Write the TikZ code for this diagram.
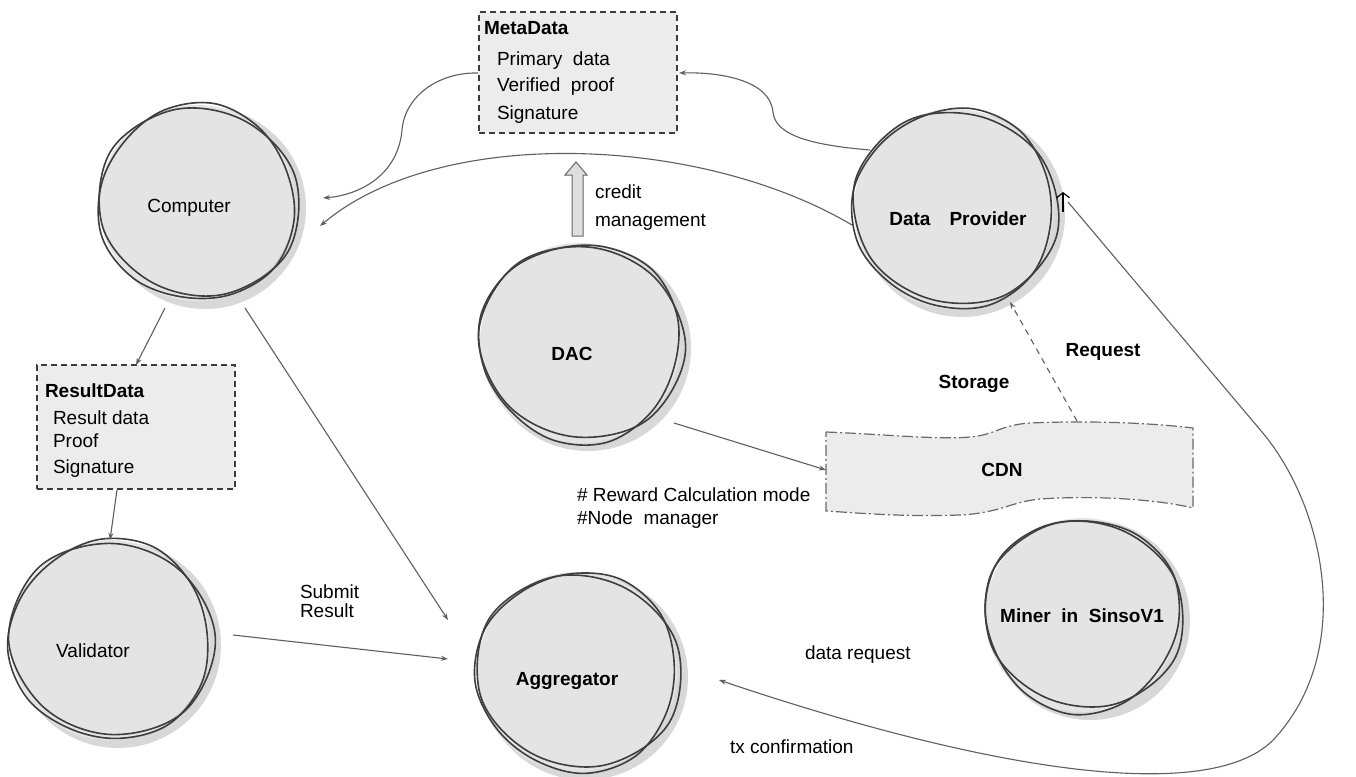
\documentclass[tikz,border=0pt]{standalone}
\usepackage{fontspec}
\setmainfont{Liberation Sans}
\usetikzlibrary{arrows.meta}
\definecolor{ballfill}{RGB}{228,228,228}
\definecolor{shd}{RGB}{216,216,216}
\definecolor{outl}{RGB}{62,62,62}
\definecolor{linec}{RGB}{95,95,95}
\definecolor{boxfill}{RGB}{236,236,236}
\definecolor{boxline}{RGB}{60,60,60}
\definecolor{cdnline}{RGB}{105,105,105}
\definecolor{hollowfill}{RGB}{222,222,222}
\newcommand\skball[5]{%
  \fill[shd] ({#2+8},{#3+5}) circle [radius=#4pt+3pt];
  \node[ball, minimum size=2*#4pt] (#1) at (#2,#3) {};
  \draw[skl] plot[domain=0:330, samples=12, smooth cycle, tension=0.6, variable=\t]
    ({#2+#4*(1+0.03*sin(3*\t+#5))*cos(\t+#5)}, {#3+#4*(1+0.03*sin(3*\t+#5))*sin(\t+#5)});
  \draw[skl] plot[domain=0:315, samples=8, smooth cycle, tension=0.6, variable=\t]
    ({#2+2+#4*(1+0.045*cos(2*\t+2*#5))*cos(\t+20+#5)}, {#3-1+#4*(0.99+0.045*cos(2*\t+2*#5))*sin(\t+20+#5)});
}
\begin{document}
\begin{tikzpicture}[x=1pt,y=-1pt,
  every node/.style={inner sep=0pt, outer sep=0pt},
  ball/.style={circle, fill=ballfill, draw=none},
  skl/.style={draw=outl, line width=1.6pt},
  lbl/.style={font=\fontsize{19}{22}\selectfont, text=black, text height=14pt, text depth=4pt},
  blbl/.style={font=\fontsize{19}{22}\selectfont\bfseries, text=black, text height=14pt, text depth=4pt},
  conn/.style={draw=linec, line width=1.1pt, -{Stealth[length=7pt,width=5pt]}},
  databox/.style={rectangle, draw=boxline, fill=boxfill, line width=1.6pt, dash pattern=on 6pt off 4pt},
  cdnshape/.style={draw=cdnline, fill=boxfill, line width=1.2pt, dash pattern=on 11pt off 3pt on 2pt off 3pt},
]
\useasboundingbox[fill=white] (0,0) rectangle (1356,776);

% ---------- balls ----------
\skball{comp}{197}{203}{98}{10}
\skball{dp}{954}{209}{100}{40}
\skball{dac}{580}{343}{100}{75}
\skball{val}{110}{640}{100}{25}
\skball{agg}{577}{672}{100}{55}
\skball{miner}{1082}{615}{97}{95}

\node[lbl]  (compT)  at (189,207) {Computer};
\node[blbl] (dpT)    at (958,220) {Data\quad Provider};
\node[blbl] (dacT)   at (572,355) {DAC};
\node[lbl]  (valT)   at (93,652)  {Validator};
\node[blbl] (aggT)   at (567,680) {Aggregator};
\node[blbl] (minerT) at (1082,617) {Miner\ \ in\ \ SinsoV1};

% ---------- data boxes ----------
\node[databox, anchor=north west, minimum width=198pt, minimum height=121pt] (meta) at (479,12) {};
\node[blbl, anchor=west] (metaT) at (484,30) {MetaData};
\node[lbl, anchor=west] (meta1) at (497,60) {Primary\ \ data};
\node[lbl, anchor=west] (meta2) at (497,87) {Verified\ \ proof};
\node[lbl, anchor=west] (meta3) at (497,114) {Signature};

\node[databox, anchor=north west, minimum width=198pt, minimum height=124pt] (res) at (37,365) {};
\node[blbl, anchor=west] (resT) at (45,392) {ResultData};
\node[lbl, anchor=west] (res1) at (53,419) {Result data};
\node[lbl, anchor=west] (res2) at (53,442) {Proof};
\node[lbl, anchor=west] (res3) at (53,468) {Signature};

% ---------- CDN ----------
\draw[cdnshape] (826,432) .. controls (880,434) and (940,440) .. (970,437)
  .. controls (995,435) and (1000,425) .. (1030,423)
  .. controls (1100,420) and (1160,424) .. (1193,428) -- (1193,508)
  .. controls (1160,500) and (1100,495) .. (1040,499)
  .. controls (1010,502) and (1000,513) .. (960,515)
  .. controls (900,517) and (860,513) .. (826,511) -- cycle;
\node[minimum width=367pt, minimum height=80pt] (cdnbox) at (1009.5,470) {};
\node[blbl] (cdnT) at (1002,471) {CDN};

% ---------- hollow arrow (credit management) ----------
\draw[draw=gray!80!black, fill=hollowfill, line width=1pt]
  (572,236) -- (572,175) -- (565,175) -- (576,162) -- (587,175) -- (583,175) -- (583,236) -- cycle;
\node[lbl, anchor=west] (cred1) at (595,193) {credit};
\node[lbl, anchor=west] (cred2) at (595,221) {management};

% ---------- connector end points ----------
\coordinate (compTip1) at (323,198);
\coordinate (compTip2) at (320,226);
\coordinate (metaR) at (679,73);
\coordinate (metaL) at (478,73);
\coordinate (dpW1) at (870,150);
\coordinate (dpW2) at (852,225);
\coordinate (compS1) at (165,308);
\coordinate (compS2) at (245,308);
\coordinate (resS) at (117,490);
\coordinate (aggTip1) at (448,620);
\coordinate (aggTip2) at (448,659);
\coordinate (valE) at (233,635);
\coordinate (dacE) at (674,423);
\coordinate (cdnTop) at (1077,421);
\coordinate (dpTipS) at (1010,302);
\coordinate (dpE) at (1068,202);
\coordinate (bendA) at (1262,432);
\coordinate (bendB) at (1275,738);
\coordinate (aggTip3) at (719,680);

% ---------- connectors ----------
\draw[conn] (metaL) .. controls (440,72) and (405,95) .. (402,130)
  .. controls (398,175) and (360,195) .. (compTip1);
\draw[conn] (dpW1) .. controls (810,145) and (775,135) .. (773,112)
  .. controls (770,80) and (720,72) .. (metaR);
\draw[conn] (dpW2) .. controls (700,135) and (440,125) .. (compTip2);
\draw[conn] (compS1) -- (res.north);
\draw[conn] (resS) -- (val.north);
\draw[conn] (compS2) -- (aggTip1);
\draw[conn] (valE) -- (aggTip2);
\draw[conn] (dacE) -- (cdnbox.west);
\draw[conn, dash pattern=on 6pt off 5pt] (cdnTop) -- (dpTipS);
\draw[conn] (dpE) -- (bendA) .. controls (1325,507) and (1355,650) .. (bendB)
  .. controls (1215,804) and (1000,775) .. (aggTip3);
\draw[black, line width=1.2pt, -{Straight Barb[length=5pt,width=13pt]}] ([xshift=-5pt,yshift=-10pt]dpE) -- ([xshift=-5pt,yshift=10pt]dpE);

% ---------- labels ----------
\node[lbl, anchor=west] (sub1) at (300,593) {Submit};
\node[lbl, anchor=west] (sub2) at (300,612) {Result};
\node[blbl] (stor) at (974,383) {Storage};
\node[blbl] (reqT) at (1103,351) {Request};
\node[lbl, anchor=west] (rew1) at (577,496) {\# Reward Calculation mode};
\node[lbl, anchor=west] (rew2) at (577,519) {\#Node\ \ manager};
\node[lbl, anchor=west] (dreq) at (805,654) {data request};
\node[lbl, anchor=west] (txc) at (730,748) {tx confirmation};
\end{tikzpicture}
\end{document}
